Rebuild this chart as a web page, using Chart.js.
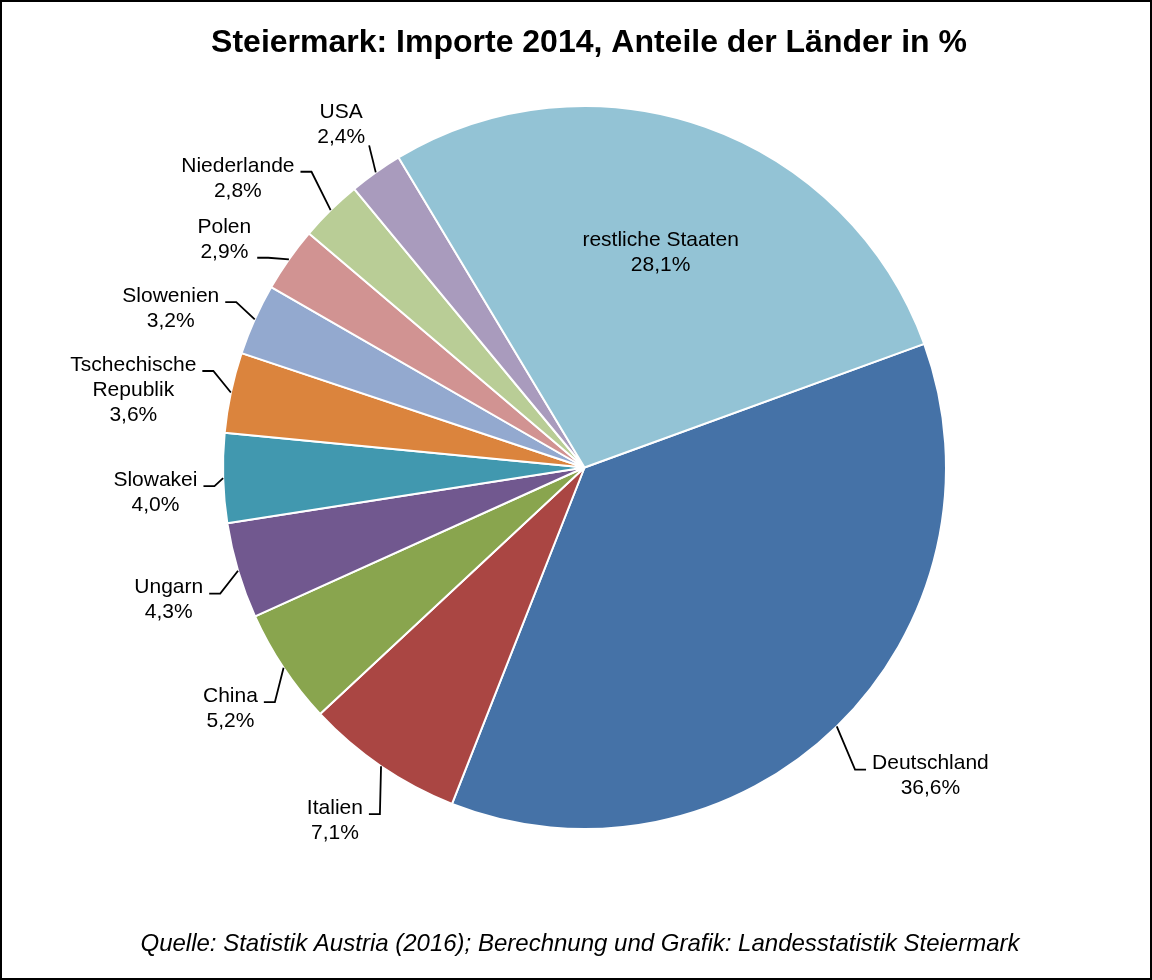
<!DOCTYPE html>
<html lang="de">
<head>
<meta charset="utf-8">
<title>Steiermark: Importe 2014</title>
<script src="https://cdn.jsdelivr.net/npm/chart.js@4/dist/chart.umd.min.js"></script>
<style>
    html, body { margin: 0; padding: 0; background: #fff; }
    canvas { display: block; }
</style>
</head>
<body>
<canvas id="chart1" width="1152" height="980"></canvas>
<script>
// data
const laender = ['Deutschland', 'Italien', 'China', 'Ungarn', 'Slowakei', 'Tschechische Republik',
    'Slowenien', 'Polen', 'Niederlande', 'USA', 'restliche Staaten'];
const anteile = [36.6, 7.1, 5.2, 4.3, 4.0, 3.6, 3.2, 2.9, 2.8, 2.4, 28.1];
const farben = ['#4572A7', '#AA4643', '#89A54E', '#71588F', '#4198AF', '#DB843D',
    '#93A9CF', '#D19392', '#B9CD96', '#A99BBD', '#93C3D5'];

const titel = 'Steiermark: Importe 2014, Anteile der Länder in %';
const quelle = 'Quelle: Statistik Austria (2016); Berechnung und Grafik: Landesstatistik Steiermark';

// where each label sits, relative to its slice (angle shift in deg, distance past the rim in px)
const labelPos = [
    { mode: 'side', da: 2.4, dr: 44, row: 0 },   // Deutschland
    { mode: 'side', da: -3.7, dr: 41, row: 0 },  // Italien
    { mode: 'side', da: -3.5, dr: 27, row: 0 },  // China
    { mode: 'side', da: -2.5, dr: 24, row: 0 },  // Ungarn
    { mode: 'side', da: -1.2, dr: 9, row: 0 },   // Slowakei
    { mode: 'side', da: 2.6, dr: 22, row: 0 },   // Tschechische Republik
    { mode: 'side', da: 1.2, dr: 24, row: 0 },   // Slowenien
    { mode: 'side', da: -1.6, dr: 18, row: 1 },  // Polen
    { mode: 'side', da: 1.9, dr: 41, row: 0 },   // Niederlande
    { mode: 'above', da: 1.5, dr: 26 },          // USA
    { mode: 'inside', f: 0.63 }                  // restliche Staaten
];

const LH = 25;
const FONT = '"Liberation Sans", Arial, sans-serif';

function prozent(v) {
    return v.toFixed(1).replace('.', ',') + '%';
}

function zeilen(name) {
    // long names break onto two lines like in the original
    return name === 'Tschechische Republik' ? ['Tschechische', 'Republik'] : [name];
}

// labels with leader lines
const beschriftung = {
    id: 'beschriftung',
    afterDatasetsDraw(chart) {
        const ctx = chart.ctx;
        const arcs = chart.getDatasetMeta(0).data;
        ctx.save();
        ctx.font = '21px ' + FONT;
        ctx.fillStyle = '#000';
        ctx.strokeStyle = '#000';
        ctx.lineWidth = 1.8;
        ctx.textAlign = 'center';
        ctx.textBaseline = 'middle';

        arcs.forEach(function (arc, i) {
            const p = arc.getProps(['x', 'y', 'startAngle', 'endAngle', 'outerRadius'], true);
            const mid = (p.startAngle + p.endAngle) / 2;
            const spec = labelPos[i];
            const lines = zeilen(laender[i]).concat([prozent(anteile[i])]);

            if (spec.mode === 'inside') {
                const cx = p.x + Math.cos(mid) * p.outerRadius * spec.f;
                const cy = p.y + Math.sin(mid) * p.outerRadius * spec.f;
                lines.forEach(function (t, k) {
                    ctx.fillText(t, cx, cy + (k - (lines.length - 1) / 2) * LH);
                });
                return;
            }

            const a = mid + spec.da * Math.PI / 180;
            const sx = p.x + Math.cos(mid) * p.outerRadius;
            const sy = p.y + Math.sin(mid) * p.outerRadius;
            const ex = p.x + Math.cos(a) * (p.outerRadius + spec.dr);
            const ey = p.y + Math.sin(a) * (p.outerRadius + spec.dr);
            const w = Math.max.apply(null, lines.map(function (t) { return ctx.measureText(t).width; }));

            let boxX, firstY;
            ctx.beginPath();
            ctx.moveTo(sx, sy);
            ctx.lineTo(ex, ey);
            if (spec.mode === 'above') {
                boxX = ex - 4 - w / 2;
                firstY = ey - 8 - (lines.length - 1) * LH;
            } else {
                const dir = ex < p.x ? -1 : 1;
                ctx.lineTo(ex + dir * 11, ey);
                boxX = ex + dir * (17 + w / 2);
                firstY = ey - 6 - spec.row * LH;
            }
            ctx.stroke();

            lines.forEach(function (t, k) {
                ctx.fillText(t, boxX, firstY + k * LH);
            });
        });
        ctx.restore();
    }
};

// title, source line and frame
const rahmen = {
    id: 'rahmen',
    afterDraw(chart) {
        const ctx = chart.ctx;
        ctx.save();
        ctx.fillStyle = '#000';
        ctx.textAlign = 'center';
        ctx.textBaseline = 'middle';
        ctx.font = 'bold 32px ' + FONT;
        ctx.fillText(titel, 589, 43);
        ctx.font = 'italic 24px ' + FONT;
        ctx.fillText(quelle, 580, 944);
        ctx.strokeStyle = '#000';
        ctx.lineWidth = 2;
        ctx.strokeRect(1, 1, chart.width - 2, chart.height - 2);
        ctx.restore();
    }
};

// chart-1
var chart1 = document.getElementById('chart1').getContext('2d');
var myChart = new Chart(chart1, {
    type: 'pie',
    data: {
        labels: laender,
        datasets: [{
            data: anteile,
            backgroundColor: farben,
            borderColor: '#fff',
            borderWidth: 2
        }]
    },
    options: {
        responsive: false,
        animation: false,
        rotation: 70,
        layout: {
            padding: { left: 222, right: 205, top: 105, bottom: 150 }
        },
        plugins: {
            legend: { display: false },
            tooltip: { enabled: false }
        }
    },
    plugins: [beschriftung, rahmen]
});
</script>
</body>
</html>
